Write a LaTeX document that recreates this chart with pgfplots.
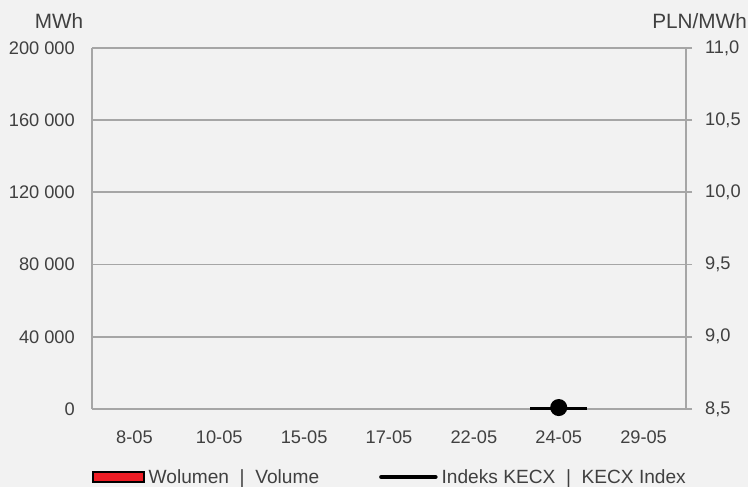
\documentclass[border=0pt]{standalone}
\usepackage{pgfplots}
\pgfplotsset{compat=1.18}
\usepackage{fontspec}
\setmainfont{Liberation Sans}
\definecolor{bg}{HTML}{F2F2F2}
\definecolor{gridc}{HTML}{A6A6A6}
\definecolor{txt}{HTML}{404040}
\definecolor{volred}{HTML}{ED1C24}
\newcommand{\fs}{\fontsize{18.3}{21}\selectfont}
\newcommand{\fl}{\fontsize{19.2}{22}\selectfont}
\newcommand{\ft}{\fontsize{20.8}{24}\selectfont}
\begin{document}
\begin{tikzpicture}[x=1bp,y=1bp]
\fill[bg] (0,0) rectangle (748,487);
\useasboundingbox (0,0) rectangle (748,487);
\pgfplotsset{
  common/.style={
    at={(92bp,78bp)}, anchor=south west,
    scale only axis, width=594bp, height=361bp,
    xmin=-0.5, xmax=6.5,
    font=\fs,
    tick label style={text=txt, font=\fs},
    /pgf/number format/assume math mode=true,
    axis line style={gridc, line width=1.8bp, -},
    scaled y ticks=false,
    clip=false,
  }
}
\begin{axis}[common,
  ymin=0, ymax=200000,
  ytick={0,40000,80000,120000,160000,200000},
  yticklabels={0,40 000,80 000,120 000,160 000,200 000},
  xtick={0,1,2,3,4,5,6},
  xticklabels={8-05,10-05,15-05,17-05,22-05,24-05,29-05},
  axis y line*=left, axis x line*=bottom,
  x axis line style={draw=none},
  ymajorgrids, grid style={gridc, line width=1.8bp},
  major tick length=0pt,
  tick style={draw=none},
  yticklabel style={inner sep=0pt, xshift=-17bp},
  xticklabel style={inner sep=0pt, yshift=-22bp},
]
\addplot[ybar, bar width=56bp, fill=volred, draw=black, line width=1.5bp] coordinates {(5,700)};
\end{axis}
\begin{axis}[common,
  ymin=8.5, ymax=11,
  ytick={8.5,9,9.5,10,10.5,11},
  yticklabels={{8,5},{9,0},{9,5},{10,0},{10,5},{11,0}},
  axis y line*=right, axis x line=none,
  xtick=\empty,
  tick align=outside, major tick length=6bp,
  ytick style={gridc, line width=1.8bp},
  yticklabel style={inner sep=0pt, xshift=13bp},
  legend columns=2,
  legend style={at={(0,0)}, anchor=west, yshift=-68bp, xshift=-3bp, draw=none, fill=none,
    font=\fl, text=txt,
    /tikz/every odd column/.append style={column sep=2bp},
    /tikz/every even column/.append style={column sep=58bp}},
]
\addlegendimage{legend image code/.code={\draw[fill=volred, draw=black, line width=1.5bp] (0bp,-5bp) rectangle (51bp,5bp);}}
\addlegendentry{Wolumen~~|~~Volume}
\addlegendimage{legend image code/.code={\draw[black, line width=4.5bp, line cap=round] (0bp,0bp) -- (54bp,0bp);}}
\addlegendentry{Indeks KECX~~|~~KECX Index}
\addplot[black, line width=4bp, mark=*, mark size=6.5bp, forget plot] coordinates {(5,8.51)};
\end{axis}
\node[text=txt, font=\ft] at (59,466) {MWh};
\node[text=txt, font=\ft, anchor=east, inner sep=0pt] at (747,466) {PLN/MWh};
\end{tikzpicture}
\end{document}
